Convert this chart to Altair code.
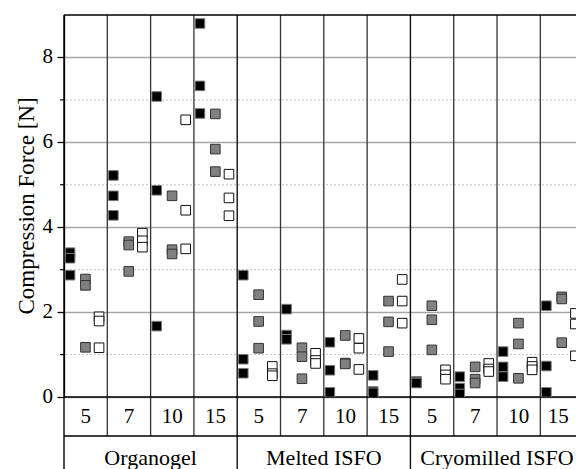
import altair as alt
import pandas as pd

groups = ["Organogel", "Melted ISFO", "Cryomilled ISFO"]
sizes = ["5", "7", "10", "15"]
series = ["black", "gray", "white"]

# values per size (5, 7, 10, 15), three replicates each
organogel_black = [[3.40, 3.27, 2.87], [5.22, 4.74, 4.28], [7.08, 4.87, 1.67], [8.80, 7.33, 6.68]]
organogel_gray = [[2.78, 2.63, 1.17], [3.66, 3.58, 2.96], [4.74, 3.47, 3.37], [6.67, 5.84, 5.31]]
organogel_white = [[1.89, 1.79, 1.16], [3.86, 3.68, 3.53], [6.53, 4.40, 3.49], [5.25, 4.69, 4.27]]

melted_black = [[2.87, 0.89, 0.56], [2.07, 1.46, 1.36], [1.29, 0.63, 0.11], [0.51, 0.13, 0.10]]
melted_gray = [[2.41, 1.78, 1.15], [1.16, 0.95, 0.43], [1.45, 0.80, 0.78], [2.26, 1.77, 1.07]]
melted_white = [[0.72, 0.55, 0.50], [1.03, 0.86, 0.79], [1.38, 1.15, 0.65], [2.77, 2.26, 1.74]]

cryo_black = [[0.37, 0.34, 0.33], [0.48, 0.21, 0.07], [1.07, 0.71, 0.48], [2.15, 0.73, 0.11]]
cryo_gray = [[2.15, 1.82, 1.11], [0.71, 0.42, 0.33], [1.74, 1.25, 0.44], [2.36, 2.31, 1.28]]
cryo_white = [[0.64, 0.52, 0.42], [0.79, 0.66, 0.60], [0.82, 0.72, 0.64], [1.97, 1.72, 0.97]]

y_major = [0, 2, 4, 6, 8]
y_minor = [1, 3, 5, 7]
y_title = "Compression Force [N]"

# ---- layout constants (not data) ----
W, H = 512, 382
XMAX = 11.824
offsets = {"black": 0.14, "gray": 0.495, "white": 0.81}
FONT = "Liberation Serif"

all_data = {
    "Organogel": {"black": organogel_black, "gray": organogel_gray, "white": organogel_white},
    "Melted ISFO": {"black": melted_black, "gray": melted_gray, "white": melted_white},
    "Cryomilled ISFO": {"black": cryo_black, "gray": cryo_gray, "white": cryo_white},
}

rows = []
for gi, g in enumerate(groups):
    for si, s in enumerate(sizes):
        col = gi * 4 + si
        for ser in series:
            for v in all_data[g][ser][si]:
                rows.append({"group": g, "size": s, "series": ser,
                             "x": col + offsets[ser], "value": v})
points_df = pd.DataFrame(rows)

sub_labels = []
for gi, g in enumerate(groups):
    for si, s in enumerate(sizes):
        col = gi * 4 + si
        right = min(col + 1, XMAX)
        sub_labels.append({"label": s, "x": (col + right) / 2})
sub_df = pd.DataFrame(sub_labels)
grp_df = pd.DataFrame([{"label": g, "x": gi * 4 + 2} for gi, g in enumerate(groups)])

inner_df = pd.DataFrame({"x": [c for c in range(1, 12) if c % 4 != 0]})
outer_df = pd.DataFrame({"x": [4, 8]})
minor_df = pd.DataFrame({"y": y_minor})
major_df = pd.DataFrame({"y": y_major, "label": [str(v) for v in y_major]})
title_df = pd.DataFrame({"t": [y_title]})

xs = alt.Scale(domain=[0, XMAX], nice=False, zero=False)
ys = alt.Scale(domain=[0, 9], nice=False, zero=False)

y_axis = alt.Axis(
    values=y_major, title=None, grid=True, labels=False,
    gridColor="#a6a6a6", gridWidth=1.3,
    domainColor="black", domainWidth=1.3,
    tickColor="black", tickWidth=1.3, tickSize=7,
)

minor_grid = alt.Chart(minor_df).mark_rule(
    color="#c4c4c4", strokeDash=[2, 2], strokeWidth=1
).encode(y=alt.Y("y:Q", scale=ys, axis=y_axis))

minor_ticks = alt.Chart(minor_df).mark_rule(color="black", strokeWidth=1.2).encode(
    y=alt.Y("y:Q", scale=ys, axis=y_axis), x=alt.value(-4), x2=alt.value(0)
)

tick_labels = alt.Chart(major_df).mark_text(
    font=FONT, fontSize=21, color="black", align="right", baseline="middle"
).encode(y=alt.Y("y:Q", scale=ys, axis=y_axis), x=alt.value(-11), text="label:N")

title_text = alt.Chart(title_df).mark_text(
    font=FONT, fontSize=23, color="black", align="center", baseline="alphabetic", angle=270
).encode(x=alt.value(-30), y=alt.value(H / 2), text="t:N")

inner_lines = alt.Chart(inner_df).mark_rule(color="#333333", strokeWidth=1.3).encode(
    x=alt.X("x:Q", scale=xs, axis=None), y=alt.value(0), y2=alt.value(421)
)
outer_lines = alt.Chart(outer_df).mark_rule(color="#111111", strokeWidth=1.4).encode(
    x=alt.X("x:Q", scale=xs, axis=None), y=alt.value(0), y2=alt.value(460)
)
left_line = alt.Chart(outer_df.head(1)).mark_rule(color="black", strokeWidth=1.4).encode(
    x=alt.value(0), y=alt.value(0), y2=alt.value(460)
)
hlines = alt.Chart(pd.DataFrame({"p": [0, 382, 421]})).mark_rule(
    color="black", strokeWidth=1.4
).encode(x=alt.value(0), x2=alt.value(W), y=alt.Y("p:Q", scale=None))

points = alt.Chart(points_df).mark_point(
    shape="square", filled=True, size=92, strokeWidth=1, opacity=1, clip=True
).encode(
    x=alt.X("x:Q", scale=xs, axis=None),
    y=alt.Y("value:Q", scale=ys, axis=y_axis),
    fill=alt.Fill("series:N", scale=alt.Scale(domain=series, range=["#000000", "#808080", "#ffffff"]), legend=None),
    stroke=alt.Stroke("series:N", scale=alt.Scale(domain=series, range=["#7a7a7a", "#333333", "#111111"]), legend=None),
)

sub_text = alt.Chart(sub_df).mark_text(
    font=FONT, fontSize=21, color="black", baseline="middle", align="center"
).encode(x=alt.X("x:Q", scale=xs, axis=None), y=alt.value(402), text="label:N")

grp_text = alt.Chart(grp_df).mark_text(
    font=FONT, fontSize=22, color="black", baseline="alphabetic", align="center"
).encode(x=alt.X("x:Q", scale=xs, axis=None), y=alt.value(450), text="label:N")

chart = alt.layer(
    minor_grid, minor_ticks, tick_labels, title_text, inner_lines, outer_lines,
    left_line, hlines, points, sub_text, grp_text
).properties(
    width=W, height=H,
    autosize=alt.AutoSizeParams(type="none"),
    padding={"left": 64, "top": 15, "right": 0, "bottom": 72},
    background="white",
).configure_view(stroke=None)

chart.save("out.html", embed_options={"renderer": "svg", "actions": False})
